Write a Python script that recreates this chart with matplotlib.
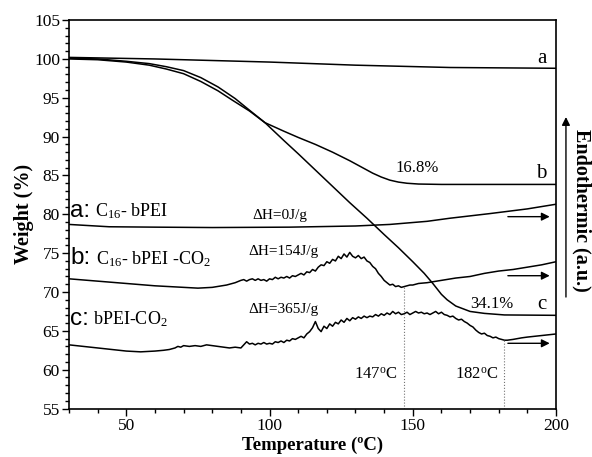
import numpy as np
import matplotlib
matplotlib.use("Agg")
import matplotlib.pyplot as plt
from matplotlib.ticker import MultipleLocator

plt.rcParams['font.family'] = ['Liberation Serif', 'DejaVu Serif']
plt.rcParams['mathtext.fontset'] = 'custom'
plt.rcParams['mathtext.rm'] = 'Liberation Serif'
plt.rcParams['mathtext.it'] = 'Liberation Serif:italic'
plt.rcParams['mathtext.bf'] = 'Liberation Serif:bold'

# TGA curves (weight %)
tga_a_T = [30, 60, 100, 130, 163, 200]
tga_a_w = [100.2, 100.0, 99.6, 99.2, 98.9, 98.8]

tga_b_T = [30, 40, 50, 58, 64, 70, 76, 82, 87, 93, 98.4, 105, 110, 116, 122,
           128, 132, 136, 139, 142, 145, 148, 152, 160, 200]
tga_b_w = [100.0, 99.9, 99.6, 99.2, 98.7, 98.1, 97.1, 95.9, 94.7, 93.3, 91.8,
           90.7, 89.9, 89.0, 88.0, 86.9, 86.1, 85.3, 84.8, 84.4, 84.15, 84.0,
           83.9, 83.85, 83.85]

tga_c_T = [30, 40, 50, 58, 64, 70, 76, 82, 88, 93, 98.4, 105, 110, 116, 122,
           128, 134, 140, 145, 150, 154, 157, 160, 162, 165, 170, 175, 182, 200]
tga_c_w = [100.1, 100.0, 99.7, 99.4, 99.0, 98.5, 97.6, 96.4, 94.9, 93.4, 91.8,
           89.5, 87.8, 85.7, 83.6, 81.5, 79.5, 77.4, 75.7, 73.9, 72.4, 71.1,
           69.7, 69.0, 68.2, 67.5, 67.25, 67.05, 67.0]

# DSC curves (plotted on the same axis, arbitrary units)
dsc_a_T = [30, 44, 60, 80, 107, 130, 142, 155, 163, 177, 190, 200]
dsc_a_v = [78.7, 78.4, 78.35, 78.3, 78.35, 78.5, 78.7, 79.1, 79.5, 80.1, 80.7, 81.3]

dsc_b_T = [30, 40, 50, 60, 70, 75, 80, 85, 88, 90, 91, 92, 93, 94, 95, 96, 97,
           98, 99, 100, 101, 102, 103, 104, 105, 106, 107, 108, 109, 110, 111,
           112, 113, 114, 115, 116, 117, 118, 119, 120, 121, 122, 123, 124,
           125, 126, 127, 128, 129, 130, 131, 132, 133, 134, 135, 136, 137,
           138, 139, 140, 141, 142, 143, 144, 145, 146, 147, 148, 149, 150,
           152, 155, 160, 165, 170, 175, 180, 185, 190, 195, 200]
dsc_b_v = [71.7, 71.4, 71.1, 70.8, 70.6, 70.5, 70.6, 70.9, 71.2, 71.5, 71.6,
           71.4, 71.6, 71.7, 71.5, 71.7, 71.5, 71.6, 71.4, 71.7, 71.6, 71.9,
           71.7, 71.9, 71.8, 72.0, 71.8, 72.1, 72.0, 72.2, 72.4, 72.2, 72.6,
           72.5, 72.9, 72.7, 73.2, 73.5, 73.4, 73.9, 73.7, 74.2, 74.0, 74.6,
           74.3, 74.9, 74.5, 75.1, 74.6, 74.4, 74.7, 74.3, 74.5, 74.0, 73.8,
           73.3, 73.0, 72.4, 72.0, 71.5, 71.2, 70.9, 71.0, 70.7, 70.8, 70.6,
           70.7, 70.8, 70.9, 70.9, 71.1, 71.2, 71.5, 71.8, 72.0, 72.4, 72.7,
           72.9, 73.2, 73.5, 73.9]

dsc_c_T = [30, 35, 40, 45, 50, 55, 60, 63, 65, 67, 68, 69, 70, 72, 74, 76, 78,
           80, 82, 84, 86, 88, 90, 91, 92, 93, 94, 95, 96, 97, 98, 99, 100,
           101, 102, 103, 104, 105, 106, 107, 108, 109, 110, 111, 112, 113,
           114, 115, 116, 117, 118, 119, 120, 121, 122, 123, 124, 125, 126,
           127, 128, 129, 130, 131, 132, 133, 134, 135, 136, 137, 138, 139,
           140, 141, 142, 143, 144, 145, 146, 147, 148, 149, 150, 151, 152,
           153, 154, 155, 156, 157, 158, 159, 160, 161, 162, 163, 164, 165,
           166, 167, 168, 169, 170, 171, 172, 173, 174, 175, 176, 177, 178,
           179, 180, 181, 182, 183, 185, 188, 190, 195, 200]
dsc_c_v = [63.2, 63.0, 62.8, 62.6, 62.4, 62.3, 62.4, 62.5, 62.6, 62.8, 63.0,
           62.9, 63.1, 63.0, 63.1, 63.0, 63.2, 63.1, 63.0, 62.9, 62.8, 62.9,
           62.8, 63.2, 63.6, 63.3, 63.4, 63.2, 63.4, 63.3, 63.5, 63.3, 63.4,
           63.3, 63.6, 63.5, 63.7, 63.5, 63.8, 63.7, 64.0, 63.9, 64.1, 64.3,
           64.1, 64.6, 64.9, 65.4, 66.2, 65.3, 64.9, 65.6, 65.3, 65.9, 65.6,
           66.1, 65.9, 66.4, 66.1, 66.6, 66.3, 66.7, 66.5, 66.8, 66.6, 66.9,
           66.7, 66.9, 66.8, 67.1, 66.9, 67.2, 67.0, 67.3, 67.1, 67.5, 67.2,
           67.4, 67.1, 67.2, 67.4, 67.1, 67.3, 67.5, 67.3, 67.4, 67.2, 67.3,
           67.1, 67.3, 67.5, 67.2, 67.4, 67.1, 67.0, 66.8, 66.9, 66.6, 66.4,
           66.5, 66.2, 66.0, 65.7, 65.5, 65.1, 64.8, 64.6, 64.7, 64.4, 64.3,
           64.1, 64.2, 64.0, 63.9, 63.8, 63.8, 63.9, 64.1, 64.2, 64.4, 64.6]

peak_T = [147, 182]            # marked DSC temperatures
arrow_y = [79.7, 72.1, 63.4]   # heating-direction arrows next to DSC a, b, c

fig = plt.figure(figsize=(5.92, 4.57), dpi=100)
ax = fig.add_axes([0.1166, 0.106, 0.8226, 0.850])

lw = 1.1
ax.plot(tga_a_T, tga_a_w, color='k', lw=lw)
ax.plot(tga_b_T, tga_b_w, color='k', lw=lw)
ax.plot(tga_c_T, tga_c_w, color='k', lw=lw)
ax.plot(dsc_a_T, dsc_a_v, color='k', lw=lw)
ax.plot(dsc_b_T, dsc_b_v, color='k', lw=lw)
ax.plot(dsc_c_T, dsc_c_v, color='k', lw=lw)

# dotted drop lines at the peak temperatures
for T, (xs, ys) in zip(peak_T, [(dsc_b_T, dsc_b_v), (dsc_c_T, dsc_c_v)]):
    ax.plot([T, T], [55, np.interp(T, xs, ys)], color='0.45', lw=0.8, ls=':')

for y in arrow_y:
    ax.annotate('', xy=(197.8, y), xytext=(183.2, y),
                arrowprops=dict(arrowstyle='-|>', color='k', lw=1.0,
                                mutation_scale=12, shrinkA=0, shrinkB=0))

ax.set_xlim(30, 200)
ax.set_ylim(55, 105)
ax.xaxis.set_major_locator(MultipleLocator(50))
ax.xaxis.set_minor_locator(MultipleLocator(10))
ax.yaxis.set_major_locator(MultipleLocator(5))
ax.yaxis.set_minor_locator(MultipleLocator(1))
ax.tick_params(which='both', direction='out', top=False, right=False,
               labelsize=12.5, width=1.0, pad=1.5)
ax.tick_params(which='major', length=5)
ax.tick_params(which='minor', length=3)
for s in ax.spines.values():
    s.set_linewidth(1.2)

ax.set_xlabel('Temperature (ºC)', fontsize=13.5, fontweight='bold',
              va='bottom')
ax.xaxis.set_label_coords(0.5, -0.118)
ax.set_ylabel('Weight (%)', fontsize=14.5, fontweight='bold', labelpad=0)

# curve labels
ax.text(195, 100.1, 'a', fontsize=15, ha='center', va='center')
ax.text(195, 85.2, 'b', fontsize=15, ha='center', va='center')
ax.text(195, 68.4, 'c', fontsize=15, ha='center', va='center')
ax.text(151.7, 85.9, '16.8%', fontsize=12, ha='center', va='center')
ax.text(177.5, 68.4, '34.1%', fontsize=12, ha='center', va='center')

ax.text(30.5, 79.7, 'a:', fontsize=17.5, family='Liberation Sans', va='baseline')
ax.text(39.0, 79.7, 'C$_{16}$- bPEI', fontsize=13, va='baseline')
ax.text(30.5, 73.6, 'b:', fontsize=17.5, family='Liberation Sans', va='baseline')
ax.text(39.5, 73.6, 'C$_{16}$- bPEI -CO$_2$', fontsize=13, va='baseline')
ax.text(30.5, 65.8, 'c:', fontsize=17.5, family='Liberation Sans', va='baseline')
ax.text(38.3, 65.8, 'bPEI-CO$_2$', fontsize=13, va='baseline')

ax.text(103.5, 79.9, 'ΔH=0J/g', fontsize=11, ha='center', va='center')
ax.text(104.7, 75.2, 'ΔH=154J/g', fontsize=11, ha='center', va='center')
ax.text(104.7, 67.8, 'ΔH=365J/g', fontsize=11, ha='center', va='center')
ax.text(137.2, 59.4, '147$^{\\rm o}$C', fontsize=12, ha='center', va='center')
ax.text(172.3, 59.4, '182$^{\\rm o}$C', fontsize=12, ha='center', va='center')

# endothermic direction arrow on the right
fig.add_artist(matplotlib.patches.FancyArrowPatch(
    (0.956, 0.344), (0.956, 0.75), transform=fig.transFigure,
    arrowstyle='-|>', mutation_scale=12, color='k', lw=1.0))
fig.text(0.982, 0.54, 'Endothermic (a.u.)', rotation=-90, fontsize=14.5,
         fontweight='bold', ha='center', va='center')

fig.savefig('out.png', dpi=100)
